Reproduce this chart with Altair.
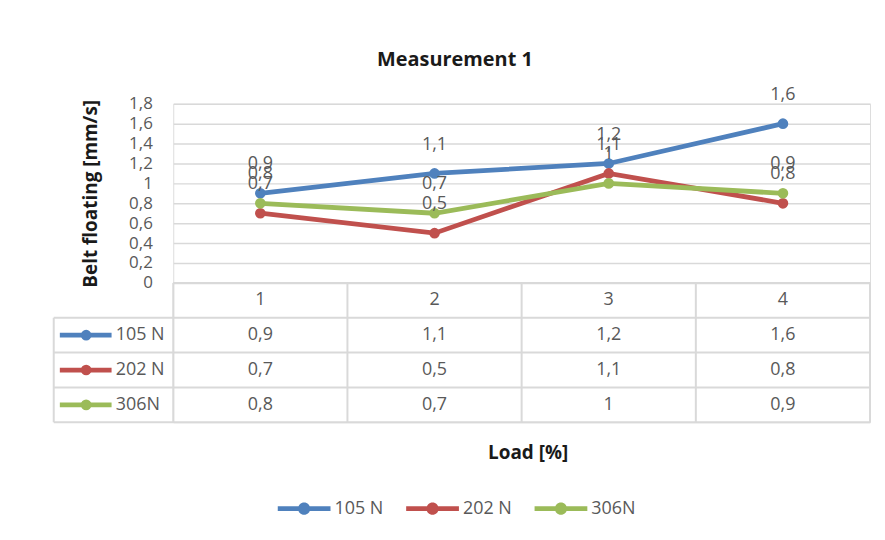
import altair as alt
import pandas as pd

# ---- data ----
loads = [1, 2, 3, 4]
series = ["105 N", "202 N", "306N"]
values = {
    "105 N": [0.9, 1.1, 1.2, 1.6],
    "202 N": [0.7, 0.5, 1.1, 0.8],
    "306N": [0.8, 0.7, 1.0, 0.9],
}
colors = ["#4F81BD", "#C0504D", "#9BBB59"]
y_ticks = [0, 0.2, 0.4, 0.6, 0.8, 1.0, 1.2, 1.4, 1.6, 1.8]

# ---- table layout (in data units of the shared x scale / table row scale) ----
X_DOMAIN = [0.5, 4.5]
LEGEND_COL_LEFT = -0.186
SYM_LEFT, SYM_RIGHT, SYM_DOT = -0.151, 0.146, 0.0
ROWLABEL_X = 0.17

FONT = "Open Sans"
GRAY = "#595959"
LINE = "#d9d9d9"


def fmt(v):
    return f"{v:g}".replace(".", ",")


rows = []
for i, s in enumerate(series):
    for l, v in zip(loads, values[s]):
        rows.append({"load": l, "series": s, "value": v, "label": fmt(v),
                     "row": i + 1, "ymid": i + 1.5})
df = pd.DataFrame(rows)

legend_path = ("M-1,-0.09 L1,-0.09 L1,0.09 L-1,0.09 Z "
               "M-0.23,0 A0.23,0.23 0 1,1 0.23,0 A0.23,0.23 0 1,1 -0.23,0 Z")
color_scale = alt.Scale(domain=series, range=colors)
legend = alt.Legend(
    title=None, orient="none", direction="horizontal",
    legendX=105, legendY=380,
    symbolType=legend_path, symbolSize=2809, symbolStrokeWidth=0,
    symbolOpacity=1,
    labelFontSize=18, labelColor=GRAY, labelFont=FONT, labelOffset=4,
    columnPadding=22,
)
color_enc = alt.Color("series:N", scale=color_scale, legend=legend)

x_top = alt.X("load:Q", scale=alt.Scale(domain=X_DOMAIN, nice=False, zero=False), axis=None)
y_top = alt.Y(
    "value:Q",
    scale=alt.Scale(domain=[0, 1.8], nice=False),
    axis=alt.Axis(
        values=y_ticks,
        labelExpr="replace(format(datum.value, '~g'), '.', ',')",
        title="Belt floating [mm/s]",
        titleFontSize=19, titleFontWeight="bold", titleColor="#1a1a1a", titleFont=FONT,
        titlePadding=28,
        labelFontSize=17, labelColor=GRAY, labelFont=FONT, labelPadding=21,
        ticks=False, domain=False, grid=True, gridColor=LINE, gridWidth=1.5,
    ),
)

base = alt.Chart(df)
lines = base.mark_line(strokeWidth=4.8).encode(x=x_top, y=y_top, color=color_enc)
pts = base.mark_point(filled=True, size=115, opacity=1).encode(x=x_top, y=y_top, color=color_enc)
labels = base.mark_text(dy=-29, fontSize=18, color=GRAY, font=FONT).encode(
    x=x_top, y=y_top, text="label:N",
)
top = alt.layer(lines, pts, labels).properties(width=700, height=180)

# ---- data table ----
table_axis = alt.Axis(
    title="Load [%]", labels=False, ticks=False, domain=False, grid=False,
    titleFontSize=19, titleFontWeight="bold", titleColor="#1a1a1a", titleFont=FONT,
    titlePadding=21, titleX=356,
)


def tx(field):
    return alt.X(field, type="quantitative",
                 scale=alt.Scale(domain=X_DOMAIN, nice=False, zero=False), axis=table_axis)


def ty(field):
    return alt.Y(field, type="quantitative",
                 scale=alt.Scale(domain=[0, 4], reverse=True, nice=False), axis=None)


header_df = pd.DataFrame({"load": loads, "label": [str(l) for l in loads],
                          "ymid": [0.5] * len(loads)})
row_df = pd.DataFrame({"series": series, "ymid": [i + 1.5 for i in range(len(series))],
                       "x0": SYM_LEFT, "x1": SYM_RIGHT, "xd": SYM_DOT, "xl": ROWLABEL_X})
hlines = pd.DataFrame({"y": [0, 1, 2, 3, 4],
                       "xa": [X_DOMAIN[0]] + [LEGEND_COL_LEFT] * 4,
                       "xb": [X_DOMAIN[1]] * 5})
vlines = pd.DataFrame({"x": [X_DOMAIN[0], 1.5, 2.5, 3.5, X_DOMAIN[1], LEGEND_COL_LEFT],
                       "ya": [0, 0, 0, 0, 0, 1], "yb": [4, 4, 4, 4, 4, 4]})

hl = alt.Chart(hlines).mark_rule(color=LINE, strokeWidth=2).encode(
    x=tx("xa"), x2="xb", y=ty("y"))
vl = alt.Chart(vlines).mark_rule(color=LINE, strokeWidth=2).encode(
    x=tx("x"), y=ty("ya"), y2="yb")
head = alt.Chart(header_df).mark_text(fontSize=18, color=GRAY, font=FONT).encode(
    x=tx("load"), y=ty("ymid"), text="label:N")
cells = alt.Chart(df).mark_text(fontSize=18, color=GRAY, font=FONT).encode(
    x=tx("load"), y=ty("ymid"), text="label:N")
rlab = alt.Chart(row_df).mark_text(fontSize=18, color=GRAY, font=FONT, align="left").encode(
    x=tx("xl"), y=ty("ymid"), text="series:N")
rsym = alt.Chart(row_df).mark_rule(strokeWidth=4.8).encode(
    x=tx("x0"), x2="x1", y=ty("ymid"), color=color_enc)
rdot = alt.Chart(row_df).mark_point(filled=True, size=115, opacity=1).encode(
    x=tx("xd"), y=ty("ymid"), color=color_enc)

table = alt.layer(hl, vl, head, cells, rsym, rdot, rlab).properties(width=700, height=140)

chart = alt.vconcat(top, table, spacing=0, bounds="flush").properties(
    title=alt.TitleParams("Measurement 1", anchor="middle", dx=-7, offset=15,
                          fontSize=20, fontWeight="bold", color="#1a1a1a", font=FONT),
    padding={"top": 41, "left": 44, "right": 5, "bottom": 5},
).configure_view(stroke=None).configure(font=FONT)

chart.save("out.html", embed_options={"renderer": "svg", "actions": False})
